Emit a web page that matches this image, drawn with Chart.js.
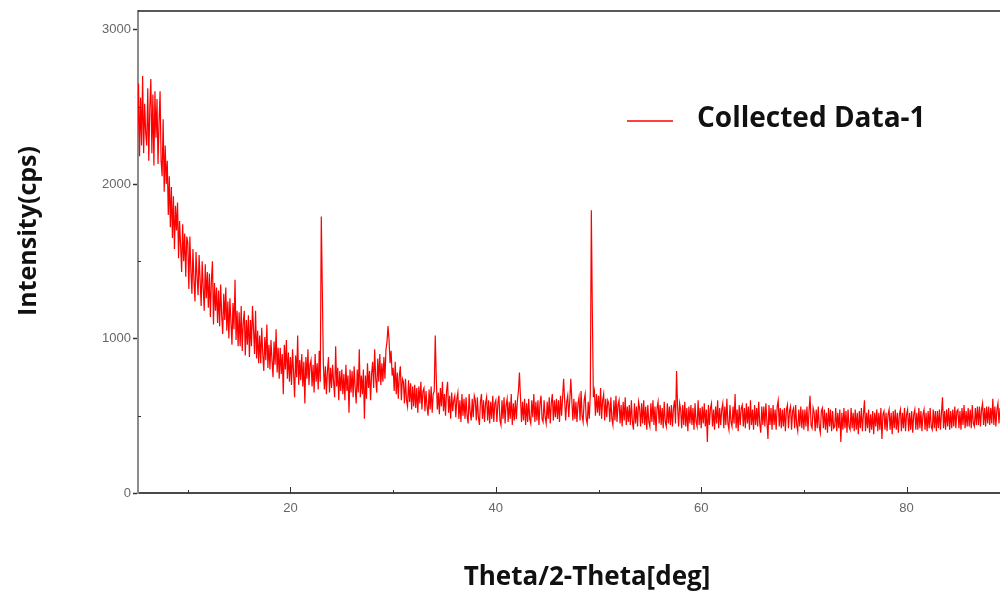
<!DOCTYPE html>
<html>
<head>
<meta charset="utf-8">
<script src="https://cdn.jsdelivr.net/npm/chart.js@4.4.0/dist/chart.umd.min.js"></script>
<style>
    html, body { margin: 0; padding: 0; background: #fff; }
    #wrap { width: 1000px; height: 592px; position: relative; }
</style>
</head>
<body>
<div id="wrap"><canvas id="xrd-chart"></canvas></div>
<script>
// scan grid (deg) and measured counts, one row per degree (x.0 .. x.9)
const scanStart = 5.0;
const scanStep = 0.1;
const intensity = [
    2780, 2300, 2650, 2180, 2560, 2250, 2700, 2200, 2520, 2330, // 5
    2250, 2620, 2150, 2500, 2680, 2200, 2580, 2120, 2600, 2300, // 6
    2550, 2130, 2400, 2600, 2150, 2050, 2420, 1950, 2250, 2000, // 7
    2150, 1800, 2050, 1720, 1980, 1650, 1920, 1580, 1860, 1700, // 8
    1880, 1520, 1760, 1600, 1430, 1740, 1500, 1680, 1400, 1660, // 9
    1620, 1320, 1660, 1440, 1290, 1580, 1380, 1240, 1560, 1400, // 10
    1280, 1540, 1380, 1210, 1500, 1330, 1180, 1480, 1260, 1430, // 11
    1200, 1420, 1140, 1380, 1500, 1090, 1360, 1180, 1330, 1100, // 12
    1310, 1080, 1350, 1150, 1030, 1290, 1120, 1330, 1050, 1240, // 13
    1000, 1260, 1110, 960, 1230, 1060, 1380, 990, 1180, 950, // 14
    1170, 950, 1210, 920, 1100, 1180, 890, 1120, 960, 1150, // 15
    880, 1120, 950, 1210, 1060, 900, 1180, 870, 1050, 840, // 16
    1020, 840, 1070, 900, 790, 1010, 860, 1090, 810, 960, // 17
    800, 990, 860, 750, 980, 830, 1060, 780, 940, 740, // 18
    940, 770, 900, 640, 960, 800, 990, 740, 910, 720, // 19
    880, 700, 930, 780, 620, 890, 750, 1020, 700, 860, // 20
    730, 900, 690, 850, 580, 880, 740, 930, 700, 830, // 21
    860, 690, 830, 650, 900, 720, 840, 670, 920, 720, // 22
    1790, 1320, 840, 670, 820, 640, 790, 880, 650, 810, // 23
    680, 830, 720, 620, 950, 690, 810, 600, 790, 660, // 24
    800, 640, 770, 600, 830, 660, 760, 520, 800, 650, // 25
    790, 620, 820, 680, 580, 800, 650, 930, 620, 760, // 26
    640, 800, 480, 760, 610, 840, 680, 790, 600, 770, // 27
    850, 680, 930, 740, 650, 870, 720, 900, 700, 840, // 28
    720, 880, 740, 930, 980, 1080, 990, 840, 920, 760, // 29
    810, 660, 850, 640, 780, 610, 760, 820, 600, 740, // 30
    720, 580, 740, 600, 560, 730, 590, 710, 540, 690, // 31
    560, 700, 550, 680, 520, 690, 580, 720, 540, 660, // 32
    680, 530, 660, 560, 500, 670, 540, 690, 520, 640, // 33
    660, 1020, 740, 540, 650, 510, 680, 560, 720, 530, // 34
    640, 500, 660, 720, 520, 630, 480, 650, 530, 600, // 35
    630, 490, 610, 650, 480, 600, 460, 640, 500, 610, // 36
    480, 620, 500, 450, 640, 520, 470, 610, 490, 630, // 37
    600, 470, 620, 490, 440, 590, 640, 480, 600, 460, // 38
    580, 620, 470, 600, 450, 590, 480, 630, 460, 580, // 39
    600, 460, 580, 630, 470, 440, 600, 480, 620, 450, // 40
    570, 610, 460, 590, 480, 640, 440, 580, 470, 600, // 41
    480, 600, 660, 780, 620, 460, 590, 470, 610, 440, // 42
    580, 460, 610, 480, 450, 600, 490, 640, 460, 590, // 43
    470, 600, 440, 580, 630, 480, 460, 600, 490, 450, // 44
    590, 480, 620, 450, 580, 640, 470, 600, 490, 610, // 45
    480, 600, 460, 630, 500, 620, 740, 600, 470, 590, // 46
    630, 490, 600, 740, 600, 470, 610, 480, 590, 460, // 47
    580, 620, 470, 660, 500, 460, 600, 640, 480, 450, // 48
    590, 480, 640, 1830, 1160, 620, 660, 500, 640, 520, // 49
    630, 500, 680, 480, 600, 640, 470, 610, 490, 600, // 50
    580, 460, 620, 480, 440, 600, 470, 630, 460, 570, // 51
    600, 450, 570, 430, 590, 470, 620, 440, 560, 460, // 52
    570, 440, 600, 460, 410, 580, 450, 560, 430, 590, // 53
    550, 430, 580, 450, 600, 440, 560, 410, 570, 460, // 54
    430, 580, 460, 600, 440, 560, 400, 550, 590, 450, // 55
    570, 440, 550, 420, 590, 460, 430, 580, 450, 560, // 56
    440, 570, 430, 550, 600, 450, 790, 560, 430, 580, // 57
    540, 420, 570, 440, 590, 430, 550, 400, 560, 450, // 58
    570, 440, 550, 410, 580, 460, 430, 600, 440, 550, // 59
    420, 560, 450, 580, 430, 540, 330, 570, 440, 550, // 60
    580, 430, 540, 410, 560, 450, 600, 420, 550, 440, // 61
    540, 580, 420, 560, 440, 610, 450, 410, 570, 460, // 62
    430, 560, 450, 640, 420, 540, 400, 570, 440, 550, // 63
    570, 430, 550, 420, 580, 450, 560, 410, 600, 440, // 64
    540, 410, 570, 440, 550, 430, 590, 450, 390, 560, // 65
    440, 560, 430, 580, 460, 350, 570, 440, 550, 410, // 66
    570, 440, 540, 410, 560, 600, 430, 550, 420, 540, // 67
    430, 550, 400, 540, 570, 420, 530, 560, 410, 530, // 68
    550, 420, 570, 440, 400, 540, 430, 560, 420, 540, // 69
    410, 540, 430, 560, 400, 530, 630, 440, 420, 550, // 70
    520, 400, 540, 420, 560, 430, 390, 530, 550, 420, // 71
    540, 410, 520, 390, 550, 430, 540, 400, 530, 420, // 72
    430, 550, 400, 520, 420, 540, 330, 520, 410, 550, // 73
    420, 530, 390, 540, 430, 410, 550, 420, 520, 400, // 74
    540, 410, 520, 380, 530, 420, 550, 400, 510, 600, // 75
    400, 520, 420, 540, 390, 510, 410, 530, 380, 520, // 76
    430, 540, 400, 520, 410, 550, 350, 510, 530, 410, // 77
    520, 400, 510, 540, 410, 520, 380, 530, 420, 540, // 78
    410, 520, 390, 510, 540, 400, 520, 420, 550, 400, // 79
    510, 540, 400, 520, 410, 530, 390, 510, 540, 410, // 80
    520, 410, 550, 420, 530, 400, 510, 540, 410, 520, // 81
    400, 530, 420, 550, 430, 410, 540, 420, 530, 400, // 82
    530, 420, 540, 410, 520, 620, 420, 530, 410, 540, // 83
    430, 550, 410, 530, 420, 540, 430, 560, 420, 530, // 84
    540, 420, 530, 410, 550, 440, 570, 420, 530, 430, // 85
    550, 430, 540, 420, 570, 450, 430, 550, 440, 560, // 86
    440, 560, 430, 540, 580, 440, 550, 430, 560, 450, // 87
    560, 440, 550, 450, 610, 440, 560, 430, 540, 580, // 88
    450, 550 // 89
];

const xTickValues = [20, 40, 60, 80];
const xMinorTicks = [10, 30, 50, 70];
const yTickValues = [0, 1000, 2000, 3000];
const yMinorTicks = [500, 1500, 2500];

const seriesLabel = "Collected Data-1";
const xTitle = "Theta/2-Theta[deg]";
const yTitle = "Intensity(cps)";

const points = intensity.map((v, i) => ({
    x: +(scanStart + i * scanStep).toFixed(2),
    y: v,
}));

// inward tick marks, top frame line, axis titles and the legend
const decorations = {
    id: "decorations",
    afterDraw(chart) {
        const { ctx, chartArea: a, scales } = chart;
        const x = scales.x;
        const y = scales.y;
        ctx.save();

        ctx.strokeStyle = "#222";
        ctx.lineWidth = 1.5;
        ctx.beginPath();
        ctx.moveTo(a.left, a.top);
        ctx.lineTo(a.right, a.top);
        ctx.stroke();

        ctx.strokeStyle = "#333";
        ctx.lineWidth = 1;
        const vTick = (v, len) => {
            const px = Math.round(x.getPixelForValue(v)) + 0.5;
            ctx.beginPath();
            ctx.moveTo(px, a.bottom);
            ctx.lineTo(px, a.bottom - len);
            ctx.stroke();
        };
        xTickValues.forEach((v) => vTick(v, 6));
        xMinorTicks.forEach((v) => vTick(v, 3));
        yMinorTicks.forEach((v) => {
            const py = Math.round(y.getPixelForValue(v)) + 0.5;
            ctx.beginPath();
            ctx.moveTo(a.left, py);
            ctx.lineTo(a.left + 3, py);
            ctx.stroke();
        });

        ctx.fillStyle = "#111";
        ctx.textAlign = "center";
        ctx.textBaseline = "middle";
        ctx.font = 'bold 26px "Open Sans"';
        ctx.fillText(xTitle, 587, 578);

        ctx.save();
        ctx.translate(29, 231);
        ctx.rotate(-Math.PI / 2);
        ctx.font = 'bold 25px "Open Sans"';
        ctx.fillText(yTitle, 0, 0);
        ctx.restore();

        // legend
        ctx.strokeStyle = "#ff0000";
        ctx.lineWidth = 1.5;
        ctx.beginPath();
        ctx.moveTo(627, 121);
        ctx.lineTo(673, 121);
        ctx.stroke();
        ctx.textAlign = "left";
        ctx.font = 'bold 28px "Open Sans"';
        ctx.fillText(seriesLabel, 697, 119);

        ctx.restore();
    },
};

const tickFont = { family: '"Liberation Sans", Arial, sans-serif', size: 13 };

new Chart(document.getElementById("xrd-chart"), {
    type: "line",
    data: {
        datasets: [
            {
                label: seriesLabel,
                data: points,
                borderColor: "#ff0000",
                borderWidth: 1.2,
                pointRadius: 0,
                tension: 0,
            },
        ],
    },
    options: {
        responsive: true,
        maintainAspectRatio: false,
        animation: false,
        layout: { padding: { top: 11, right: 0, bottom: 0, left: 0 } },
        plugins: {
            legend: { display: false },
            tooltip: { enabled: false },
        },
        scales: {
            x: {
                type: "linear",
                min: 5.15,
                max: 89.1,
                afterBuildTicks: (scale) => {
                    scale.ticks = xTickValues.map((v) => ({ value: v }));
                },
                afterFit: (scale) => {
                    scale.height = 99;
                },
                grid: { display: false },
                border: { color: "#4a4a4a", width: 2 },
                ticks: {
                    color: "#666",
                    font: tickFont,
                    padding: 0,
                    maxRotation: 0,
                    callback: (v) => String(v),
                },
            },
            y: {
                type: "linear",
                min: 0,
                max: 3120,
                afterBuildTicks: (scale) => {
                    scale.ticks = yTickValues.map((v) => ({ value: v }));
                },
                afterFit: (scale) => {
                    scale.width = 138;
                },
                grid: {
                    drawOnChartArea: false,
                    drawTicks: true,
                    tickLength: 5,
                    tickColor: "#333",
                    tickWidth: 1.5,
                },
                border: { color: "#8c8c8c", width: 2 },
                ticks: {
                    color: "#666",
                    font: tickFont,
                    padding: 2,
                    callback: (v) => String(v),
                },
            },
        },
    },
    plugins: [decorations],
});
</script>
</body>
</html>
